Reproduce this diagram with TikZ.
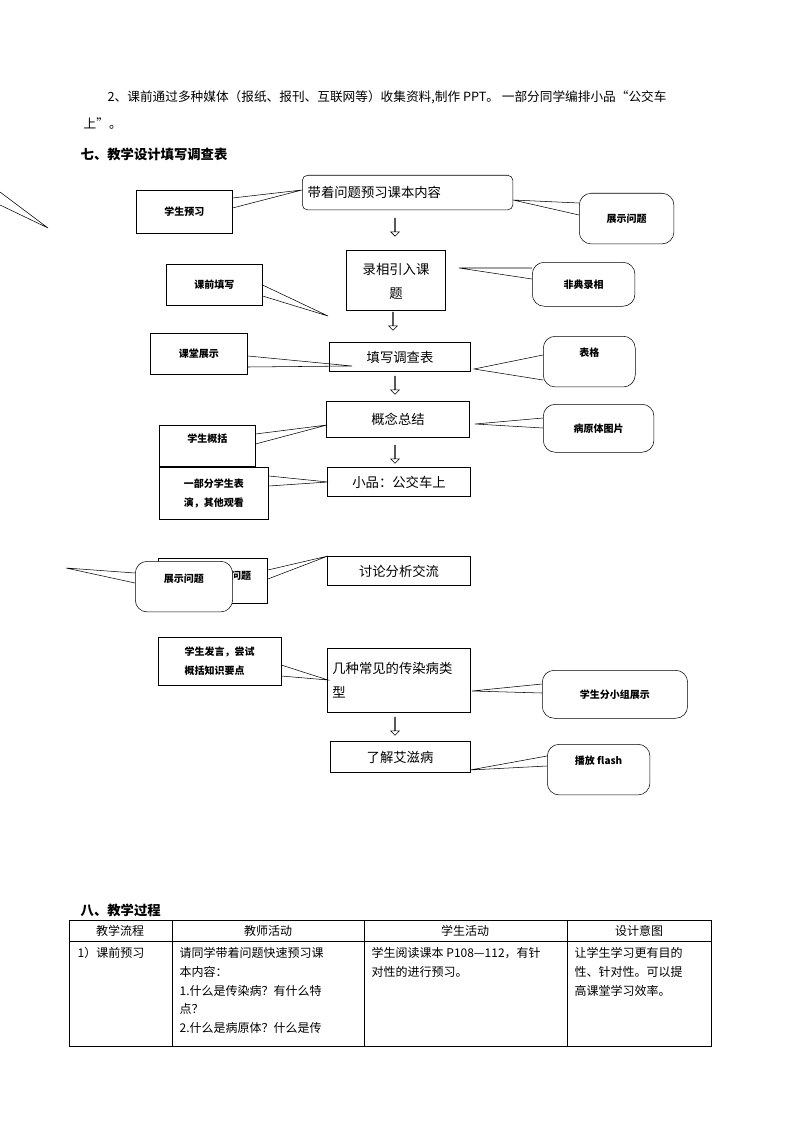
\documentclass[tikz,border=0pt]{standalone}
\usepackage{fontspec}
\setmainfont{Noto Sans CJK SC}
\usetikzlibrary{shapes.arrows, positioning}

\begin{document}
\begin{tikzpicture}[
    x=0.75pt, y=-0.75pt,
    box/.style={rectangle, draw, inner sep=2pt, align=center, font=\fontsize{10}{18}\selectfont},
    note/.style={rectangle, draw, fill=white, inner sep=3pt, align=left, font=\fontsize{7.5}{14}\selectfont\bfseries},
    bubble/.style={rectangle, draw, fill=white, rounded corners=9pt, inner sep=3pt, align=left, font=\fontsize{7.5}{14}\selectfont\bfseries},
    down/.style={single arrow, draw, shape border rotate=270, minimum height=13.5pt, minimum width=6pt, single arrow head extend=3pt, inner sep=0pt},
    ptr/.style={thin}
]
    \useasboundingbox (0,0) rectangle (794,1123);

    % page text
    \node[anchor=west, font=\fontsize{9.5}{12}\selectfont] (p1) at (103,97) {2、课前通过多种媒体（报纸、报刊、互联网等）收集资料,制作 PPT。 一部分同学编排小品“公交车};
    \node[anchor=west, font=\fontsize{9.5}{12}\selectfont] (p2) at (79,124) {上”。};
    \node[anchor=west, font=\fontsize{10}{12}\selectfont\bfseries] (h7) at (76,154) {七、教学设计填写调查表};

    % flow boxes
    \node[box, rounded corners=4pt, minimum width=158pt, minimum height=26pt, anchor=north west] (b1) at (302,175) {};
    \node[anchor=west, font=\fontsize{10}{12}\selectfont] at (303,192) {带着问题预习课本内容};
    \node[box, minimum width=74pt, minimum height=45pt, text width=68pt, text height=10pt] (b2) at (396,280) {录相引入课\\题};
    \node[box, minimum width=106pt, minimum height=22pt] (b3) at (400,357) {\raisebox{-3pt}{填写调查表}};
    \node[box, minimum width=107pt, minimum height=27pt] (b4) at (398,419) {概念总结};
    \node[box, minimum width=107pt, minimum height=22pt] (b5) at (399,482) {\raisebox{-3pt}{小品：公交车上}};
    \node[box, minimum width=107pt, minimum height=22pt] (b6) at (399,571) {\raisebox{-3pt}{讨论分析交流}};
    \node[box, minimum width=107pt, minimum height=48pt, align=left, text width=100pt] (b7) at (399,680) {几种常见的传染病类\\型};
    \node[box, minimum width=105pt, minimum height=23pt] (b8) at (400,757) {\raisebox{-3pt}{了解艾滋病}};

    % hollow arrows
    \foreach \ax/\ay [count=\i] in {395/227, 393/321, 395/385, 395/454, 395/726}
        \node[down] (a\i) at (\ax,\ay) {};

    % notes on the left
    \node[note, minimum width=72pt, minimum height=32pt, anchor=north west] (n1) at (136,190) {学生预习};
    \node[note, minimum width=72pt, minimum height=31pt, anchor=north west] (n2) at (166,264) {课前填写};
    \node[note, minimum width=73pt, minimum height=31pt, anchor=north west] (n3) at (150,333) {课堂展示};
    \node[note, minimum width=72pt, minimum height=31pt, anchor=north west, text depth=12pt] (n4) at (159,425) {学生概括};
    \node[note, minimum width=82pt, minimum height=39pt, anchor=north west] (n5) at (159,467) {一部分学生表\\演，其他观看};
    \node[note, minimum width=82pt, minimum height=34pt, anchor=north west] (n6) at (158,558) {};
    \node[font=\fontsize{7.5}{14}\selectfont\bfseries] (n6t) at (241,576) {问题};
    \node[note, minimum width=92pt, minimum height=36pt, anchor=north west] (n7) at (158,637) {学生发言，尝试\\概括知识要点};

    % bubbles on the right
    \node[bubble, minimum width=71pt, minimum height=38pt, anchor=north west] (u1) at (579,193) {展示问题};
    \node[bubble, minimum width=77pt, minimum height=33pt, anchor=north west] (u2) at (532,262) {非典录相};
    \node[bubble, minimum width=69pt, minimum height=38pt, anchor=north west, text depth=14pt] (u3) at (543,336) {表格};
    \node[bubble, minimum width=83pt, minimum height=36pt, anchor=north west] (u4) at (543,404) {病原体图片};
    \node[bubble, minimum width=109pt, minimum height=36pt, anchor=north west] (u5) at (542,670) {学生分小组展示};
    \node[bubble, minimum width=77pt, minimum height=38pt, anchor=north west, text depth=14pt] (u6) at (547,744) {播放 flash};
    \node[bubble, minimum width=73pt, minimum height=38pt, anchor=north west, text depth=12pt] (u7) at (135,561) {展示问题};

    % pointer tips
    \coordinate (t1) at (302,190);
    \coordinate (t2) at (328,316);
    \coordinate (t3) at (352,366);
    \coordinate (t4) at (327,425);
    \coordinate (t5) at (328,482);
    \coordinate (t6) at (328,556);
    \coordinate (t7) at (328,680);
    \coordinate (s1) at (513,200);
    \coordinate (s2) at (459,268);
    \coordinate (s3) at (474,369);
    \coordinate (s4) at (475,424);
    \coordinate (s5) at (472,691);
    \coordinate (s6) at (470,770);
    \coordinate (s7) at (66,568);
    \coordinate (l0) at (48,228);
    \coordinate (l1) at (0,192);
    \coordinate (l2) at (0,205);

    % pointers
    \draw[ptr] (n1.east |- 0,198) -- (t1) -- (n1.east |- 0,208);
    \draw[ptr] (n2.east |- 0,285) -- (t2) -- (n2.east |- 0,296);
    \draw[ptr] (n3.east |- 0,356) -- (t3) -- (n3.east |- 0,367);
    \draw[ptr] (n4.east |- 0,434) -- (t4) -- (n4.east |- 0,444);
    \draw[ptr] (n5.east |- 0,476) -- (t5) -- (n5.east |- 0,486);
    \draw[ptr] (n6.east |- 0,570) -- (t6) -- (n6.east |- 0,579);
    \draw[ptr] (n7.east |- 0,665) -- (t7) -- (n7.east |- 0,676);
    \draw[ptr] (u1.west |- 0,203) -- (s1) -- (u1.west |- 0,215);
    \draw[ptr] (u2.west |- 0,268) -- (s2) -- (u2.west |- 0,279);
    \draw[ptr] (u3.west |- 0,355) -- (s3) -- (u3.west |- 0,380);
    \draw[ptr] (u4.west |- 0,418) -- (s4) -- (u4.west |- 0,428);
    \draw[ptr] (u5.west |- 0,684) -- (s5) -- (u5.west |- 0,693);
    \draw[ptr] (u6.west |- 0,756) -- (s6) -- (u6.west |- 0,766);
    \draw[ptr] (u7.west |- 0,573) -- (s7) -- (u7.west |- 0,583);
    \draw[ptr] (l1) -- (l0) -- (l2);

    % section eight and table
    \node[anchor=west, font=\fontsize{10}{12}\selectfont\bfseries] (h8) at (76,910) {八、教学过程};
    \draw (69,920) rectangle (711,1046);
    \draw (69,941) -- (711,941);
    \foreach \cx in {172,364,567}
        \draw (\cx,920) -- (\cx,1046);
    \foreach \hx/\htext in {120/教学流程, 268/教师活动, 465/学生活动, 639/设计意图}
        \node[font=\fontsize{9}{12}\selectfont] at (\hx,931) {\htext};
    \node[anchor=north west, align=left, font=\fontsize{9}{14}\selectfont] (r1) at (73,943) {1）课前预习};
    \node[anchor=north west, align=left, font=\fontsize{9}{14}\selectfont] (r2) at (175,943) {请同学带着问题快速预习课\\本内容：\\1.什么是传染病？有什么特\\点？\\2.什么是病原体？什么是传};
    \node[anchor=north west, align=left, font=\fontsize{9}{14}\selectfont] (r3) at (367,943) {学生阅读课本 P108—112，有针\\对性的进行预习。};
    \node[anchor=north west, align=left, font=\fontsize{9}{14}\selectfont] (r4) at (570,943) {让学生学习更有目的\\性、针对性。可以提\\高课堂学习效率。};
\end{tikzpicture}
\end{document}
